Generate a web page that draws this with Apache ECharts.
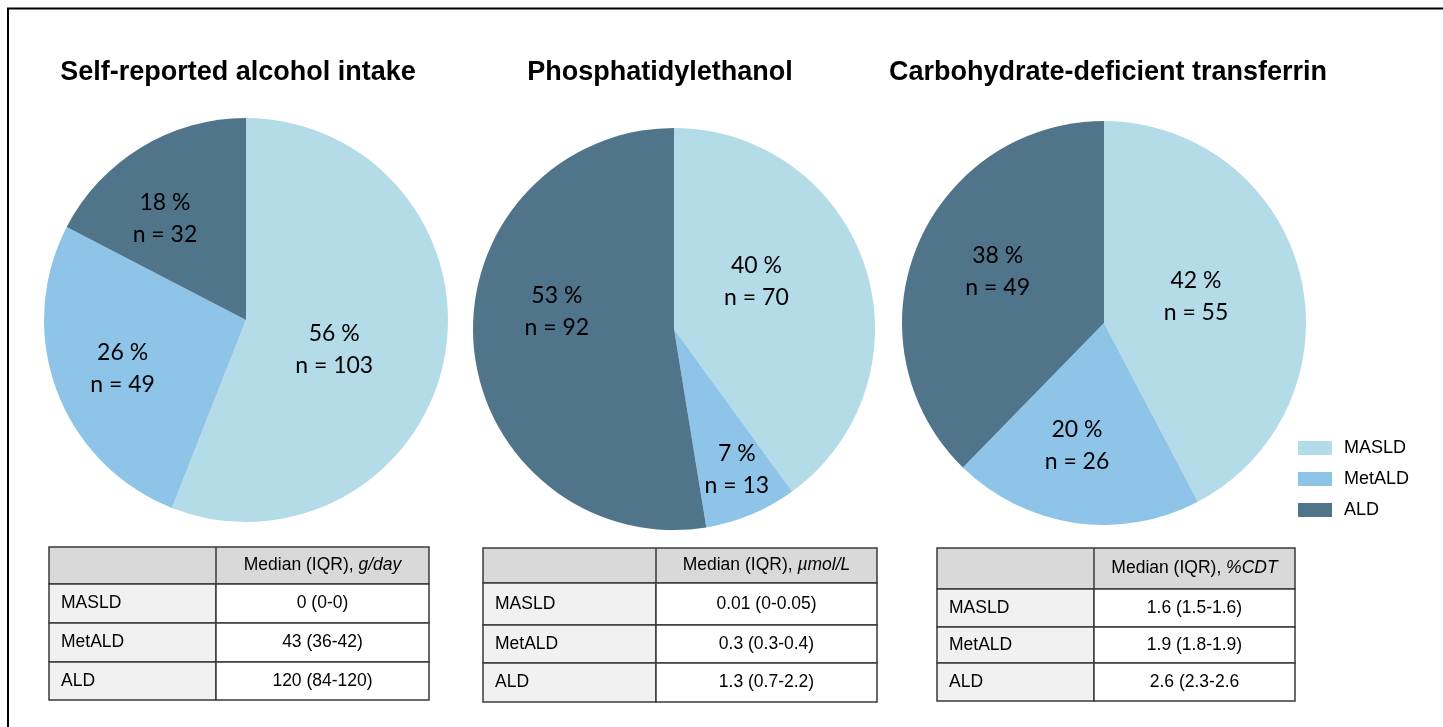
<!DOCTYPE html>
<html>
<head>
<meta charset="utf-8">
<script src="https://cdn.jsdelivr.net/npm/echarts@6/dist/echarts.min.js"></script>
<style>
html,body{margin:0;padding:0;background:#fff;}
#chart{width:1443px;height:727px;}
</style>
</head>
<body>
<div id="chart"></div>
<script>
// ---- data ----
var groups = ['MASLD', 'MetALD', 'ALD'];
var titles = ['Self-reported alcohol intake', 'Phosphatidylethanol', 'Carbohydrate-deficient transferrin'];
var countsSelfReport = [103, 49, 32];
var countsPEth = [70, 13, 92];
var countsCDT = [55, 26, 49];
var pctSelfReport = [56, 26, 18];
var pctPEth = [40, 7, 53];
var pctCDT = [42, 20, 38];
var tableUnits = ['g/day', 'µmol/L', '%CDT'];
var tableSelfReport = ['0 (0-0)', '43 (36-42)', '120 (84-120)'];
var tablePEth = ['0.01 (0-0.05)', '0.3 (0.3-0.4)', '1.3 (0.7-2.2)'];
var tableCDT = ['1.6 (1.5-1.6)', '1.9 (1.8-1.9)', '2.6 (2.3-2.6'];

// ---- styling / layout ----
var colors = ['#b4dce8', '#8fc4e9', '#507489'];
var sansFont = '"Liberation Sans", Arial, sans-serif';
var labelFont = 'Lato, "Open Sans", sans-serif';
var pieLayout = [
  {center: [246, 320], radius: 202, titleX: 233, labelShift: [[-14, 10], [-26, 12], [-27, -13]]},
  {center: [674, 329], radius: 201, titleX: 655, labelShift: [[-16, -15], [23, 45], [-14, -26]]},
  {center: [1104, 323], radius: 202, titleX: 1103, labelShift: [[-9, -2], [-12, 20], [-10, -12]]}
];
var tableLayout = [
  {x0: 49, x1: 216, x2: 429, ys: [547, 584, 623, 662, 700]},
  {x0: 483, x1: 656, x2: 877, ys: [548, 583, 625, 663, 702]},
  {x0: 937, x1: 1094, x2: 1295, ys: [548, 589, 627, 663, 701]}
];

var allCounts = [countsSelfReport, countsPEth, countsCDT];
var allPct = [pctSelfReport, pctPEth, pctCDT];
var allTables = [tableSelfReport, tablePEth, tableCDT];

var chart = echarts.init(document.getElementById('chart'), null, {renderer: 'canvas'});

var series = allCounts.map(function (counts, si) {
  var lay = pieLayout[si];
  var pct = allPct[si];
  return {
    type: 'pie',
    center: lay.center,
    radius: lay.radius,
    startAngle: 90,
    clockwise: true,
    animation: false,
    silent: true,
    avoidLabelOverlap: false,
    itemStyle: {borderWidth: 0},
    label: {
      show: true,
      position: 'inside',
      color: '#000',
      fontFamily: labelFont,
      fontSize: 23,
      lineHeight: 32,
      align: 'center',
      formatter: function (p) { return pct[p.dataIndex] + ' %\nn = ' + p.value; }
    },
    labelLine: {show: false},
    labelLayout: function (p) {
      var s = lay.labelShift[p.dataIndex];
      return {dx: s[0], dy: s[1]};
    },
    data: groups.map(function (g, i) {
      return {name: g, value: counts[i], itemStyle: {color: colors[i]}};
    })
  };
});

var titleOpts = titles.map(function (t, i) {
  return {
    text: t,
    left: pieLayout[i].titleX,
    top: 54,
    textAlign: 'center',
    textStyle: {fontFamily: sansFont, fontWeight: 'bold', fontSize: 27, color: '#000'}
  };
});

// tables as graphic elements
var graphics = [];
graphics.push({type: 'polyline', silent: true, shape: {points: [[8, 727], [8, 8.5], [1443, 8.5]]},
  style: {stroke: '#000', lineWidth: 2, fill: null}});

var tFont = 17.5;
tableLayout.forEach(function (tl, ti) {
  var ys = tl.ys;
  var stroke = '#3a3a3a';
  graphics.push({type: 'rect', silent: true, shape: {x: tl.x0, y: ys[0], width: tl.x2 - tl.x0, height: ys[1] - ys[0]},
    style: {fill: '#d9d9d9', stroke: stroke, lineWidth: 1.5}});
  graphics.push({type: 'line', silent: true, shape: {x1: tl.x1, y1: ys[0], x2: tl.x1, y2: ys[1]}, style: {stroke: stroke, lineWidth: 1.5}});
  graphics.push({type: 'text', silent: true, x: (tl.x1 + tl.x2) / 2, y: (ys[0] + ys[1]) / 2,
    style: {
      text: '{n|Median (IQR), }{i|' + tableUnits[ti] + '}',
      align: 'center', verticalAlign: 'middle',
      rich: {
        n: {fontFamily: sansFont, fontSize: tFont, fill: '#000'},
        i: {fontFamily: sansFont, fontSize: tFont, fontStyle: 'italic', fill: '#000'}
      }
    }});
  groups.forEach(function (g, ri) {
    var yTop = ys[ri + 1], yBot = ys[ri + 2];
    graphics.push({type: 'rect', silent: true, shape: {x: tl.x0, y: yTop, width: tl.x1 - tl.x0, height: yBot - yTop},
      style: {fill: '#f1f1f1', stroke: stroke, lineWidth: 1.5}});
    graphics.push({type: 'rect', silent: true, shape: {x: tl.x1, y: yTop, width: tl.x2 - tl.x1, height: yBot - yTop},
      style: {fill: '#ffffff', stroke: stroke, lineWidth: 1.5}});
    graphics.push({type: 'text', silent: true, x: tl.x0 + 12, y: (yTop + yBot) / 2,
      style: {text: g, fontFamily: sansFont, fontSize: tFont, fill: '#000', align: 'left', verticalAlign: 'middle'}});
    graphics.push({type: 'text', silent: true, x: (tl.x1 + tl.x2) / 2, y: (yTop + yBot) / 2,
      style: {text: allTables[ti][ri], fontFamily: sansFont, fontSize: tFont, fill: '#000', align: 'center', verticalAlign: 'middle'}});
  });
});

chart.setOption({
  backgroundColor: '#ffffff',
  animation: false,
  title: titleOpts,
  legend: {
    orient: 'vertical',
    left: 1298,
    top: 439,
    padding: 0,
    itemWidth: 34,
    itemHeight: 14,
    itemGap: 13,
    icon: 'rect',
    selectedMode: false,
    data: groups,
    textStyle: {fontFamily: sansFont, fontSize: 18, color: '#000', padding: [0, 0, 0, 7]}
  },
  series: series,
  graphic: graphics
});
</script>
</body>
</html>
